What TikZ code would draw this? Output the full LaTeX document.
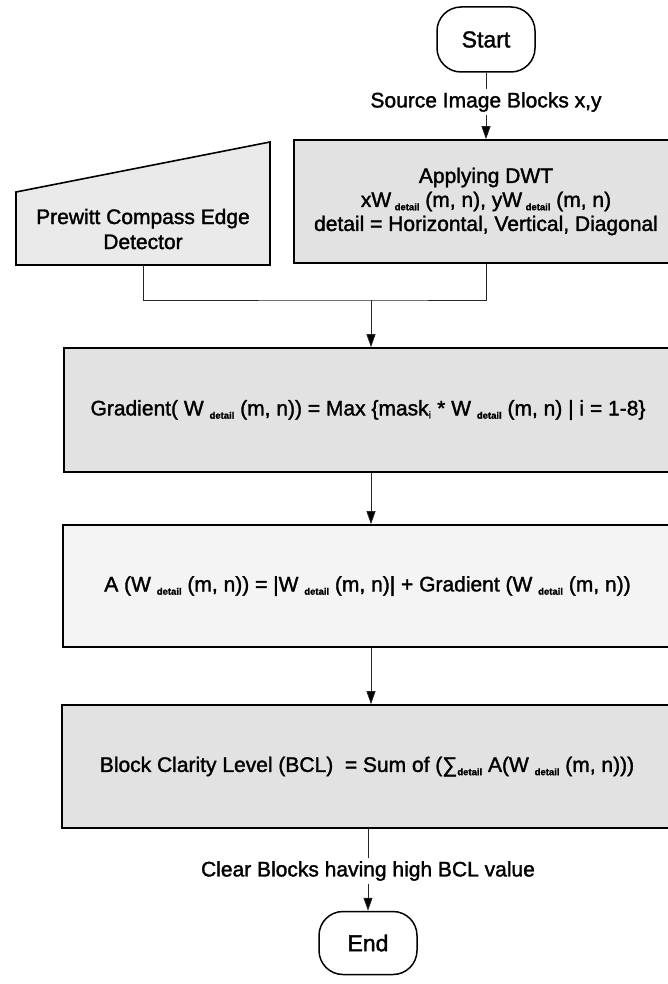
\documentclass[tikz,border=0pt]{standalone}
\usepackage{fontspec}
\setmainfont{Liberation Sans}
\newfontfamily\heavyfont{Liberation Sans}[FakeBold=1.6]
\usetikzlibrary{arrows.meta,calc}
\definecolor{fillA}{HTML}{E2E2E2}
\definecolor{fillB}{HTML}{EAEAEA}
\definecolor{fillC}{HTML}{F4F4F4}
\newcommand{\dtl}{\raisebox{-0.3ex}{\fontsize{9.5}{10}\selectfont\bfseries detail}}
\begin{document}
\begin{tikzpicture}[x=1pt,y=-1pt,
  txt/.style={font=\heavyfont\fontsize{21}{24}\selectfont, text=black},
  procbox/.style={txt, draw=black, line width=1.6pt, align=center, inner sep=0pt},
  term/.style={txt, font=\heavyfont\fontsize{23}{26}\selectfont, draw=black, line width=1.5pt, fill=white, rounded corners=24pt, inner sep=0pt},
  conn/.style={draw=black!85, line width=0.8pt},
  arr/.style={conn, -{Triangle[width=9pt,length=13pt,fill=black]}},
  lbl/.style={txt, inner sep=3pt}]
\clip (0,0) rectangle (668,984);
\fill[white] (0,0) rectangle (668,984);

% Start terminal
\node[term, minimum width=98pt, minimum height=65pt] (start) at (486,39.5) {Start};
\node[lbl] (src) at (486,102) {Source Image Blocks x,y};

% DWT box
\node[procbox, fill=fillA, minimum width=384pt, minimum height=123pt] (dwt) at (486,201.5)
  {Applying DWT\\ xW\,\dtl\ (m, n), yW\,\dtl\ (m, n)\\ detail = Horizontal, Vertical, Diagonal};

% Prewitt trapezoid
\coordinate (pwtl) at (16,192);
\coordinate (pwtr) at (270,142);
\coordinate (pwbr) at (270,265);
\coordinate (pwbl) at (16,265);
\fill[fillB] (pwtl) -- (pwtr) -- (pwbr) -- (pwbl) -- cycle;
\draw[line width=1.6pt, line join=miter] (pwtl) -- (pwtr) -- (pwbr) -- (pwbl) -- cycle;
\node[txt, align=center] (prewitt) at (143,229) {Prewitt Compass Edge\\[1pt] Detector};
\coordinate (pwbot) at (143,265);
\coordinate (join) at (371,300);

% Gradient box
\node[procbox, fill=fillA, minimum width=608pt, minimum height=124pt] (grad) at (368,410)
  {Gradient( W \dtl\ (m, n)) = Max \{mask\textsubscript{\fontsize{10}{10}\selectfont i} * W \dtl\ (m, n) | i = 1-8\}};

% A box
\node[procbox, fill=fillC, minimum width=609pt, minimum height=122pt] (abox) at (367.5,586)
  {A (W \dtl\ (m, n)) = |W \dtl\ (m, n)| + Gradient (W \dtl\ (m, n))};

% BCL box
\node[procbox, fill=fillA, minimum width=610pt, minimum height=123pt] (bcl) at (367,766.5)
  {Block Clarity Level (BCL)\ \ = Sum of (∑\dtl\ A(W \dtl\ (m, n)))};

\node[lbl] (clear) at (368,871) {Clear Blocks having high BCL value};
\node[term, minimum width=98pt, minimum height=63pt] (endn) at (368,943) {End};

% connectors
\draw[conn] (start.south) -- (src.north);
\draw[arr] (src.south) -- (src.south |- dwt.north);
\draw[conn] (pwbot) |- (join) -| (dwt.south);
\draw[arr] (join) -- (join |- grad.north);
\draw[arr] (grad.south -| join) -- (abox.north -| join);
\draw[arr] (abox.south -| join) -- (bcl.north -| join);
\draw[conn] (bcl.south -| clear) -- (clear.north);
\draw[arr] (clear.south) -- (endn.north);
\end{tikzpicture}
\end{document}
